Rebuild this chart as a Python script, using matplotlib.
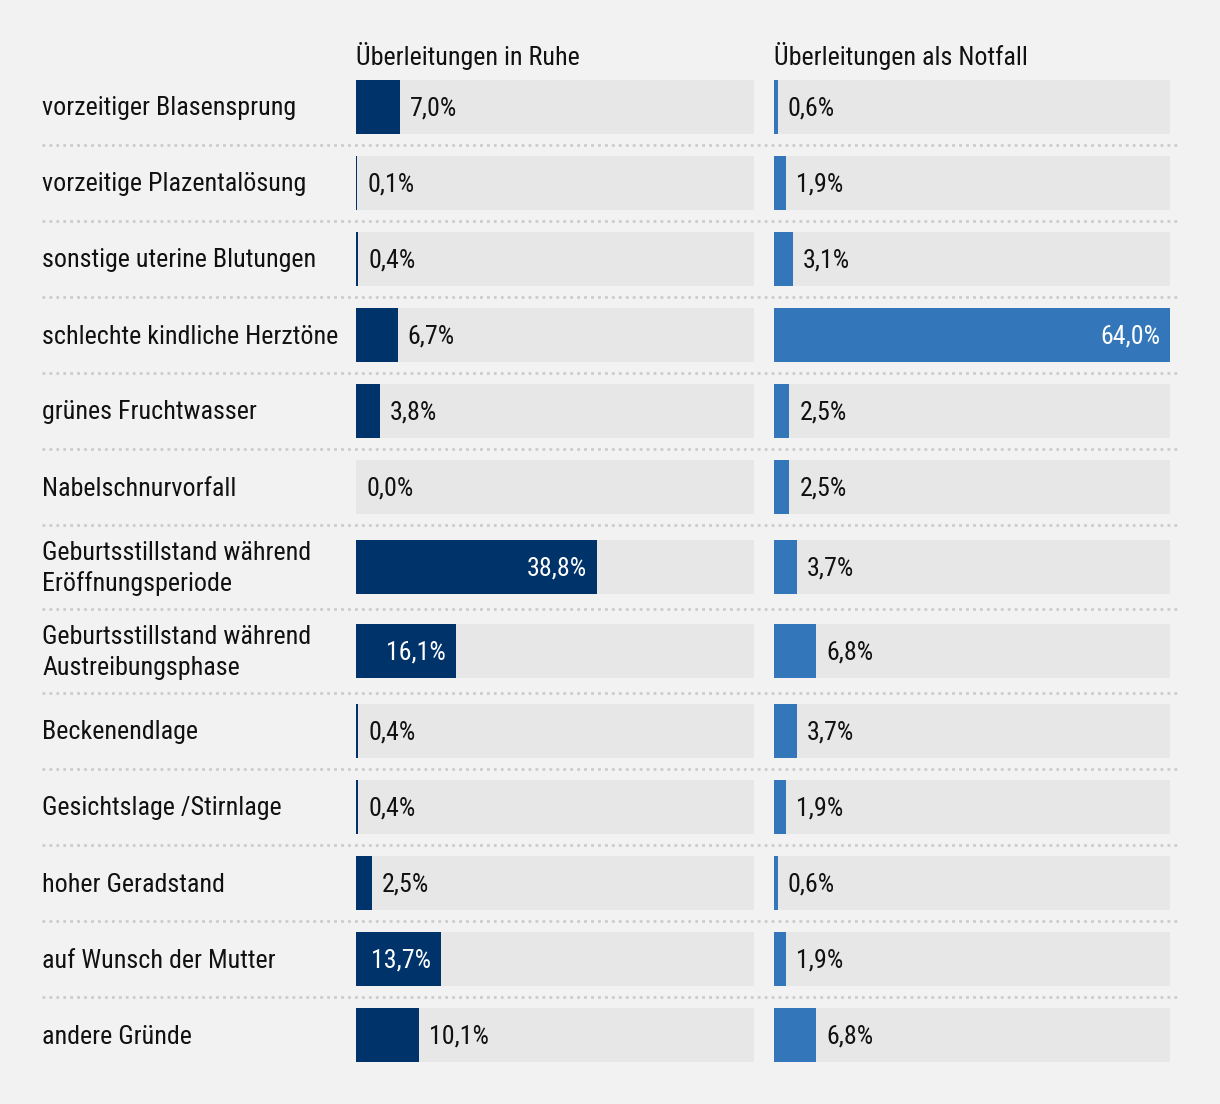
import matplotlib
matplotlib.use("Agg")
import matplotlib.pyplot as plt
from matplotlib import font_manager

# Daten
gruende = [
    "vorzeitiger Blasensprung",
    "vorzeitige Plazentalösung",
    "sonstige uterine Blutungen",
    "schlechte kindliche Herztöne",
    "grünes Fruchtwasser",
    "Nabelschnurvorfall",
    "Geburtsstillstand während\nEröffnungsperiode",
    "Geburtsstillstand während\nAustreibungsphase",
    "Beckenendlage",
    "Gesichtslage /Stirnlage",
    "hoher Geradstand",
    "auf Wunsch der Mutter",
    "andere Gründe",
]
ruhe = [7.0, 0.1, 0.4, 6.7, 3.8, 0.0, 38.8, 16.1, 0.4, 0.4, 2.5, 13.7, 10.1]
notfall = [0.6, 1.9, 3.1, 64.0, 2.5, 2.5, 3.7, 6.8, 3.7, 1.9, 0.6, 1.9, 6.8]
spalten = ["Überleitungen in Ruhe", "Überleitungen als Notfall"]
max_wert = 64.0

# Schrift
namen = {f.name for f in font_manager.fontManager.ttflist}
schrift = "Roboto"
for kandidat in ["Roboto Condensed", "Liberation Sans Narrow"]:
    if kandidat in namen:
        schrift = kandidat
        break
plt.rcParams["font.family"] = [schrift, "DejaVu Sans"]

BG = "#f2f2f2"
TRACK = "#e7e7e7"
farben = ["#003369", "#3377ba"]
FS = 18.7

W, H = 1220, 1104
fig = plt.figure(figsize=(W / 100, H / 100), dpi=100, facecolor=BG)

# Zeilenlayout in Pixeln
oben = 69
hoehen = [84 if "\n" in g else 76 for g in gruende]
mitten = []
y = oben
for h in hoehen:
    mitten.append(y + h / 2)
    y += h
grenzen = [oben + sum(hoehen[:i + 1]) for i in range(len(hoehen) - 1)]

# Hintergrund-Achse für Texte und Trennlinien
bg = fig.add_axes([0, 0, 1, 1])
bg.set_xlim(0, W)
bg.set_ylim(H, 0)
bg.axis("off")
bg.set_facecolor(BG)
for g, ym in zip(gruende, mitten):
    bg.text(42, ym + 1.5, g, ha="left", va="center", fontsize=FS, color="#111111",
            linespacing=1.32)
for yg in grenzen:
    bg.plot([42, 1178], [yg, yg], color="#cccccc", lw=2,
            linestyle=(0, (1, 1.5)), solid_capstyle="butt")

spalten_x = [(356, 754), (774, 1170)]
for (x0, x1), titel, werte, farbe in zip(spalten_x, spalten, [ruhe, notfall], farben):
    ax = fig.add_axes([x0 / W, 0, (x1 - x0) / W, 1])
    ax.set_xlim(0, max_wert)
    ax.set_ylim(H, 0)
    ax.axis("off")
    ax.patch.set_alpha(0)
    ax.barh(mitten, [max_wert] * len(werte), height=54, color=TRACK, left=0)
    ax.barh(mitten, werte, height=54, color=farbe, left=0)
    ax.text(0, 56, titel, ha="left", va="center", fontsize=FS, color="#111111")
    px = max_wert / (x1 - x0)
    for w, ym in zip(werte, mitten):
        lab = f"{w:.1f}%".replace(".", ",")
        if w > 12:
            ax.text(w - 10 * px, ym + 1.5, lab, ha="right", va="center",
                    fontsize=FS, color="white")
        else:
            ax.text(max(w, 0.0) + 10 * px + (1 * px if w < 0.3 else 0), ym + 1.5, lab,
                    ha="left", va="center", fontsize=FS, color="#111111")

fig.savefig("out.png", dpi=100, facecolor=BG)
